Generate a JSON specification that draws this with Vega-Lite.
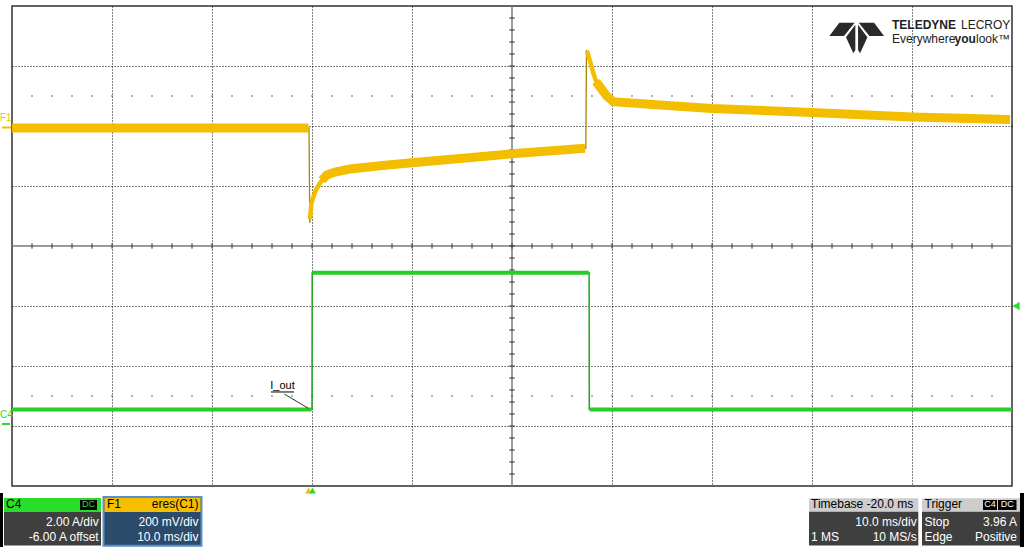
{
"$schema": "https://vega.github.io/schema/vega-lite/v6.json",
"width": 1000, "height": 480,
"autosize": {"type": "none"},
"padding": {"left": 12, "top": 6, "right": 12, "bottom": 61},
"background": "white",
"config": {"view": {"stroke": "#303030", "strokeWidth": 1.5}, "axis": {"titleOpacity": 0}},
"datasets": {
"yel": [
{"t": -30, "v": 1.967, "seg": "a"}, {"t": -0.35, "v": 1.967, "seg": "a"},
{"t": -0.3, "v": 1.967, "seg": "e"}, {"t": -0.22, "v": 0.383, "seg": "e"},
{"t": -0.2, "v": 0.45, "seg": "m1"}, {"t": -0.05, "v": 0.717, "seg": "m1"}, {"t": 0.13, "v": 0.817, "seg": "m1"}, {"t": 0.4, "v": 0.933, "seg": "m1"}, {"t": 0.8, "v": 1.05, "seg": "m1"}, {"t": 1.2, "v": 1.13, "seg": "m1"},
{"t": 1.0, "v": 1.095, "seg": "b"}, {"t": 1.47, "v": 1.183, "seg": "b"}, {"t": 2.3, "v": 1.233, "seg": "b"}, {"t": 3.8, "v": 1.283, "seg": "b"}, {"t": 6.8, "v": 1.337, "seg": "b"}, {"t": 10, "v": 1.387, "seg": "b"}, {"t": 16.8, "v": 1.488, "seg": "b"}, {"t": 20, "v": 1.537, "seg": "b"}, {"t": 27.3, "v": 1.628, "seg": "b"},
{"t": 27.38, "v": 1.63, "seg": "e"}, {"t": 27.45, "v": 3.267, "seg": "e"},
{"t": 27.5, "v": 3.25, "seg": "m2"}, {"t": 27.8, "v": 3.083, "seg": "m2"}, {"t": 28.13, "v": 2.883, "seg": "m2"}, {"t": 28.47, "v": 2.717, "seg": "m2"}, {"t": 28.8, "v": 2.65, "seg": "m2"},
{"t": 28.4, "v": 2.74, "seg": "c"}, {"t": 28.8, "v": 2.65, "seg": "c"}, {"t": 29.47, "v": 2.5, "seg": "c"}, {"t": 30.13, "v": 2.405, "seg": "c"}, {"t": 34.8, "v": 2.35, "seg": "c"}, {"t": 40, "v": 2.292, "seg": "c"}, {"t": 50, "v": 2.225, "seg": "c"}, {"t": 60, "v": 2.15, "seg": "c"}, {"t": 69.8, "v": 2.108, "seg": "c"}
],
"grn": [
{"t": -30, "v": -2.725, "seg": "a"}, {"t": -0.05, "v": -2.725, "seg": "a"},
{"t": 0.0, "v": -2.725, "seg": "e"}, {"t": 0.02, "v": -0.447, "seg": "e"},
{"t": 0.05, "v": -0.447, "seg": "b"}, {"t": 27.68, "v": -0.447, "seg": "b"},
{"t": 27.71, "v": -0.447, "seg": "e"}, {"t": 27.73, "v": -2.725, "seg": "e"},
{"t": 27.78, "v": -2.725, "seg": "c"}, {"t": 70, "v": -2.725, "seg": "c"}
],
"minorT": [
{"t": -28}, {"t": -26}, {"t": -24}, {"t": -22}, {"t": -20}, {"t": -18}, {"t": -16}, {"t": -14}, {"t": -12}, {"t": -10},
{"t": -8}, {"t": -6}, {"t": -4}, {"t": -2}, {"t": 0}, {"t": 2}, {"t": 4}, {"t": 6}, {"t": 8}, {"t": 10},
{"t": 12}, {"t": 14}, {"t": 16}, {"t": 18}, {"t": 20}, {"t": 22}, {"t": 24}, {"t": 26}, {"t": 28}, {"t": 30},
{"t": 32}, {"t": 34}, {"t": 36}, {"t": 38}, {"t": 40}, {"t": 42}, {"t": 44}, {"t": 46}, {"t": 48}, {"t": 50},
{"t": 52}, {"t": 54}, {"t": 56}, {"t": 58}, {"t": 60}, {"t": 62}, {"t": 64}, {"t": 66}, {"t": 68}
],
"minorV": [
{"v": -3.8}, {"v": -3.6}, {"v": -3.4}, {"v": -3.2}, {"v": -3.0}, {"v": -2.8}, {"v": -2.6}, {"v": -2.4}, {"v": -2.2}, {"v": -2.0},
{"v": -1.8}, {"v": -1.6}, {"v": -1.4}, {"v": -1.2}, {"v": -1.0}, {"v": -0.8}, {"v": -0.6}, {"v": -0.4}, {"v": -0.2}, {"v": 0.0},
{"v": 0.2}, {"v": 0.4}, {"v": 0.6}, {"v": 0.8}, {"v": 1.0}, {"v": 1.2}, {"v": 1.4}, {"v": 1.6}, {"v": 1.8}, {"v": 2.0},
{"v": 2.2}, {"v": 2.4}, {"v": 2.6}, {"v": 2.8}, {"v": 3.0}, {"v": 3.2}, {"v": 3.4}, {"v": 3.6}, {"v": 3.8}
],
"boxes": [
{"t": -31.2, "t2": -30.9, "v": -4.117, "v2": -5.02, "fill": "#000000", "stroke": "transparent", "sw": 0},
{"t": -30.8, "t2": -21.1, "v": -4.2, "v2": -4.433, "fill": "#2BDD2B", "stroke": "transparent", "sw": 0},
{"t": -30.8, "t2": -21.1, "v": -4.433, "v2": -4.993, "fill": "#3F3F3F", "stroke": "transparent", "sw": 0},
{"t": -23.2, "t2": -21.5, "v": -4.233, "v2": -4.4, "fill": "#000000", "stroke": "transparent", "sw": 0},
{"t": -20.85, "t2": -11.05, "v": -4.183, "v2": -4.995, "fill": "#2C4A6A", "stroke": "#5B8FC8", "sw": 2},
{"t": -20.75, "t2": -11.15, "v": -4.2, "v2": -4.433, "fill": "#F5BE00", "stroke": "transparent", "sw": 0},
{"t": 49.7, "t2": 60.63, "v": -4.205, "v2": -4.428, "fill": "#CDCDCD", "stroke": "transparent", "sw": 0},
{"t": 49.7, "t2": 60.63, "v": -4.428, "v2": -4.993, "fill": "#3F3F3F", "stroke": "transparent", "sw": 0},
{"t": 61.0, "t2": 70.8, "v": -4.205, "v2": -4.428, "fill": "#CDCDCD", "stroke": "transparent", "sw": 0},
{"t": 61.0, "t2": 70.8, "v": -4.428, "v2": -4.993, "fill": "#3F3F3F", "stroke": "transparent", "sw": 0},
{"t": 67.1, "t2": 68.5, "v": -4.233, "v2": -4.4, "fill": "#000000", "stroke": "transparent", "sw": 0},
{"t": 68.6, "t2": 70.45, "v": -4.233, "v2": -4.4, "fill": "#000000", "stroke": "transparent", "sw": 0},
{"t": 70.8, "t2": 71.2, "v": -4.117, "v2": -5.02, "fill": "#000000", "stroke": "transparent", "sw": 0}
],
"lines": [
{"t": -31, "t2": -30.1, "v": 1.975, "v2": 1.975, "color": "#F5BE00", "sw": 2},
{"t": -31, "t2": -30.2, "v": -2.967, "v2": -2.967, "color": "#2BDD2B", "sw": 2},
{"t": -4.1, "t2": -1.8, "v": -2.433, "v2": -2.433, "color": "#000000", "sw": 1},
{"t": -2.77, "t2": -0.37, "v": -2.467, "v2": -2.705, "color": "#000000", "sw": 0.8}
],
"marks": [
{"t": 70.4, "v": -1.0, "shape": "triangle-left", "color": "#2BDD2B", "size": 70},
{"t": -0.35, "v": -4.075, "shape": "triangle-up", "color": "#F5BE00", "size": 45},
{"t": 0.05, "v": -4.075, "shape": "triangle-up", "color": "#2BDD2B", "size": 45}
],
"texts": [
{"t": -31.2, "v": 2.133, "text": "F1", "color": "#F5BE00", "size": 10, "align": "left"},
{"t": -31.2, "v": -2.817, "text": "C4", "color": "#2BDD2B", "size": 10, "align": "left"},
{"t": -2.95, "v": -2.333, "text": "I_out", "color": "#000000", "size": 11, "align": "center"},
{"t": -30.6, "v": -4.292, "text": "C4", "color": "#000000", "size": 12, "align": "left"},
{"t": -22.35, "v": -4.3, "text": "DC", "color": "#2BDD2B", "size": 9, "align": "center"},
{"t": -21.33, "v": -4.605, "text": "2.00 A/div", "color": "#FFFFFF", "size": 12, "align": "right"},
{"t": -21.33, "v": -4.85, "text": "-6.00 A offset", "color": "#FFFFFF", "size": 12, "align": "right"},
{"t": -20.5, "v": -4.292, "text": "F1", "color": "#000000", "size": 12, "align": "left"},
{"t": -11.35, "v": -4.292, "text": "eres(C1)", "color": "#000000", "size": 12, "align": "right"},
{"t": -11.35, "v": -4.605, "text": "200 mV/div", "color": "#FFFFFF", "size": 12, "align": "right"},
{"t": -11.35, "v": -4.85, "text": "10.0 ms/div", "color": "#FFFFFF", "size": 12, "align": "right"},
{"t": 49.9, "v": -4.292, "text": "Timebase -20.0 ms", "color": "#000000", "size": 12, "align": "left"},
{"t": 60.47, "v": -4.605, "text": "10.0 ms/div", "color": "#FFFFFF", "size": 12, "align": "right"},
{"t": 49.9, "v": -4.85, "text": "1 MS", "color": "#FFFFFF", "size": 12, "align": "left"},
{"t": 60.47, "v": -4.85, "text": "10 MS/s", "color": "#FFFFFF", "size": 12, "align": "right"},
{"t": 61.25, "v": -4.292, "text": "Trigger", "color": "#000000", "size": 12, "align": "left"},
{"t": 67.8, "v": -4.3, "text": "C4", "color": "#FFFFFF", "size": 9, "align": "center"},
{"t": 69.52, "v": -4.3, "text": "DC", "color": "#FFFFFF", "size": 9, "align": "center"},
{"t": 61.25, "v": -4.605, "text": "Stop", "color": "#FFFFFF", "size": 12, "align": "left"},
{"t": 70.5, "v": -4.605, "text": "3.96 A", "color": "#FFFFFF", "size": 12, "align": "right"},
{"t": 61.25, "v": -4.85, "text": "Edge", "color": "#FFFFFF", "size": 12, "align": "left"},
{"t": 70.5, "v": -4.85, "text": "Positive", "color": "#FFFFFF", "size": 12, "align": "right"},
{"t": 64.9, "v": 3.69, "text": "LECROY", "color": "#222222", "size": 12, "align": "left"},
{"t": 58.0, "v": 3.45, "text": "Everywhere", "color": "#222222", "size": 12, "align": "left"},
{"t": 66.4, "v": 3.45, "text": "look™", "color": "#222222", "size": 12, "align": "left"}
],
"bold": [
{"t": 58.0, "v": 3.69, "text": "TELEDYNE", "color": "#222222", "size": 12},
{"t": 64.25, "v": 3.45, "text": "you", "color": "#222222", "size": 12}
],
"logo": [{"t": 54.47, "v": 3.467}]
},
"layer": [
{"data": {"values": [{"t": 20}]}, "mark": {"type": "rule", "color": "#7A7A7A", "strokeWidth": 1.5},
 "encoding": {"x": {"field": "t", "type": "quantitative", "scale": {"domain": [-30, 70], "nice": false, "zero": false},
  "axis": {"values": [-20, -10, 0, 10, 30, 40, 50, 60], "grid": true, "gridColor": "#000000", "gridDash": [1, 2], "gridWidth": 1, "gridOpacity": 1, "labels": false, "ticks": false, "domain": false, "title": null}}}},
{"data": {"values": [{"v": 0}]}, "mark": {"type": "rule", "color": "#7A7A7A", "strokeWidth": 1.5},
 "encoding": {"y": {"field": "v", "type": "quantitative", "scale": {"domain": [-4, 4], "nice": false, "zero": false},
  "axis": {"values": [-3, -2, -1, 1, 2, 3], "grid": true, "gridColor": "#000000", "gridDash": [1, 2], "gridWidth": 1, "gridOpacity": 1, "labels": false, "ticks": false, "domain": false, "title": null}}}},
{"data": {"name": "minorT"}, "mark": {"type": "rule", "color": "#333333", "strokeWidth": 1},
 "encoding": {"x": {"field": "t", "type": "quantitative"}, "y": {"datum": -0.045}, "y2": {"datum": 0.045}}},
{"data": {"name": "minorV"}, "mark": {"type": "rule", "color": "#333333", "strokeWidth": 1},
 "encoding": {"y": {"field": "v", "type": "quantitative"}, "x": {"datum": 19.72}, "x2": {"datum": 20.28}}},
{"data": {"name": "minorT"}, "mark": {"type": "rule", "color": "#333333", "strokeWidth": 1.5},
 "encoding": {"x": {"field": "t", "type": "quantitative"}, "y": {"datum": 2.49}, "y2": {"datum": 2.51}}},
{"data": {"name": "minorT"}, "mark": {"type": "rule", "color": "#333333", "strokeWidth": 1.5},
 "encoding": {"x": {"field": "t", "type": "quantitative"}, "y": {"datum": -2.49}, "y2": {"datum": -2.51}}},
{"data": {"name": "yel"}, "mark": {"type": "line", "color": "#A88600", "strokeWidth": 1.3},
 "encoding": {"x": {"field": "t", "type": "quantitative"}, "y": {"field": "v", "type": "quantitative"}}},
{"data": {"name": "yel"}, "transform": [{"filter": "datum.seg == 'm1' || datum.seg == 'm2'"}], "mark": {"type": "line", "color": "#F4BE00", "strokeWidth": 4.5, "strokeCap": "butt"},
 "encoding": {"x": {"field": "t", "type": "quantitative"}, "y": {"field": "v", "type": "quantitative"}, "detail": {"field": "seg"}}},
{"data": {"name": "yel"}, "transform": [{"filter": "datum.seg == 'a' || datum.seg == 'b' || datum.seg == 'c'"}], "mark": {"type": "line", "color": "#F4BE00", "strokeWidth": 9, "strokeCap": "butt"},
 "encoding": {"x": {"field": "t", "type": "quantitative"}, "y": {"field": "v", "type": "quantitative"}, "detail": {"field": "seg"}}},
{"data": {"name": "grn"}, "mark": {"type": "line", "color": "#1FA51F", "strokeWidth": 1.5},
 "encoding": {"x": {"field": "t", "type": "quantitative"}, "y": {"field": "v", "type": "quantitative"}}},
{"data": {"name": "grn"}, "transform": [{"filter": "datum.seg != 'e'"}], "mark": {"type": "line", "color": "#25CF25", "strokeWidth": 4, "strokeCap": "butt"},
 "encoding": {"x": {"field": "t", "type": "quantitative"}, "y": {"field": "v", "type": "quantitative"}, "detail": {"field": "seg"}}},
{"data": {"name": "boxes"}, "mark": {"type": "rect"},
 "encoding": {"x": {"field": "t", "type": "quantitative"}, "x2": {"field": "t2"}, "y": {"field": "v", "type": "quantitative"}, "y2": {"field": "v2"},
  "fill": {"field": "fill", "type": "nominal", "scale": null}, "stroke": {"field": "stroke", "type": "nominal", "scale": null}, "strokeWidth": {"field": "sw", "type": "quantitative", "scale": null}}},
{"data": {"name": "lines"}, "mark": {"type": "rule"},
 "encoding": {"x": {"field": "t", "type": "quantitative"}, "x2": {"field": "t2"}, "y": {"field": "v", "type": "quantitative"}, "y2": {"field": "v2"},
  "color": {"field": "color", "type": "nominal", "scale": null}, "strokeWidth": {"field": "sw", "type": "quantitative", "scale": null}}},
{"data": {"name": "marks"}, "mark": {"type": "point", "filled": true, "opacity": 1},
 "encoding": {"x": {"field": "t", "type": "quantitative"}, "y": {"field": "v", "type": "quantitative"},
  "shape": {"field": "shape", "type": "nominal", "scale": null}, "color": {"field": "color", "type": "nominal", "scale": null}, "size": {"field": "size", "type": "quantitative", "scale": null}}},
{"data": {"name": "logo"}, "mark": {"type": "point", "filled": true, "opacity": 1, "color": "#2A2A2A", "size": 3136,
  "shape": "M-0.073,-0.548L-0.62,-0.548L-0.977,-0.071L-0.454,-0.071ZM-0.049,-0.476L-0.382,-0.024L-0.12,0.548L-0.049,0.43ZM0.073,-0.548L0.62,-0.548L0.977,-0.071L0.454,-0.071ZM0.049,-0.476L0.382,-0.024L0.12,0.548L0.049,0.43Z"},
 "encoding": {"x": {"field": "t", "type": "quantitative"}, "y": {"field": "v", "type": "quantitative"}}},
{"data": {"name": "texts"}, "transform": [{"filter": "datum.align == 'left'"}], "mark": {"type": "text", "align": "left", "baseline": "middle", "font": "Liberation Sans"},
 "encoding": {"x": {"field": "t", "type": "quantitative"}, "y": {"field": "v", "type": "quantitative"}, "text": {"field": "text"},
  "color": {"field": "color", "type": "nominal", "scale": null}, "size": {"field": "size", "type": "quantitative", "scale": null}}},
{"data": {"name": "texts"}, "transform": [{"filter": "datum.align == 'right'"}], "mark": {"type": "text", "align": "right", "baseline": "middle", "font": "Liberation Sans"},
 "encoding": {"x": {"field": "t", "type": "quantitative"}, "y": {"field": "v", "type": "quantitative"}, "text": {"field": "text"},
  "color": {"field": "color", "type": "nominal", "scale": null}, "size": {"field": "size", "type": "quantitative", "scale": null}}},
{"data": {"name": "texts"}, "transform": [{"filter": "datum.align == 'center'"}], "mark": {"type": "text", "align": "center", "baseline": "middle", "font": "Liberation Sans"},
 "encoding": {"x": {"field": "t", "type": "quantitative"}, "y": {"field": "v", "type": "quantitative"}, "text": {"field": "text"},
  "color": {"field": "color", "type": "nominal", "scale": null}, "size": {"field": "size", "type": "quantitative", "scale": null}}},
{"data": {"name": "bold"}, "mark": {"type": "text", "align": "left", "baseline": "middle", "font": "Liberation Sans", "fontWeight": "bold"},
 "encoding": {"x": {"field": "t", "type": "quantitative"}, "y": {"field": "v", "type": "quantitative"}, "text": {"field": "text"},
  "color": {"field": "color", "type": "nominal", "scale": null}, "size": {"field": "size", "type": "quantitative", "scale": null}}}
]
}
